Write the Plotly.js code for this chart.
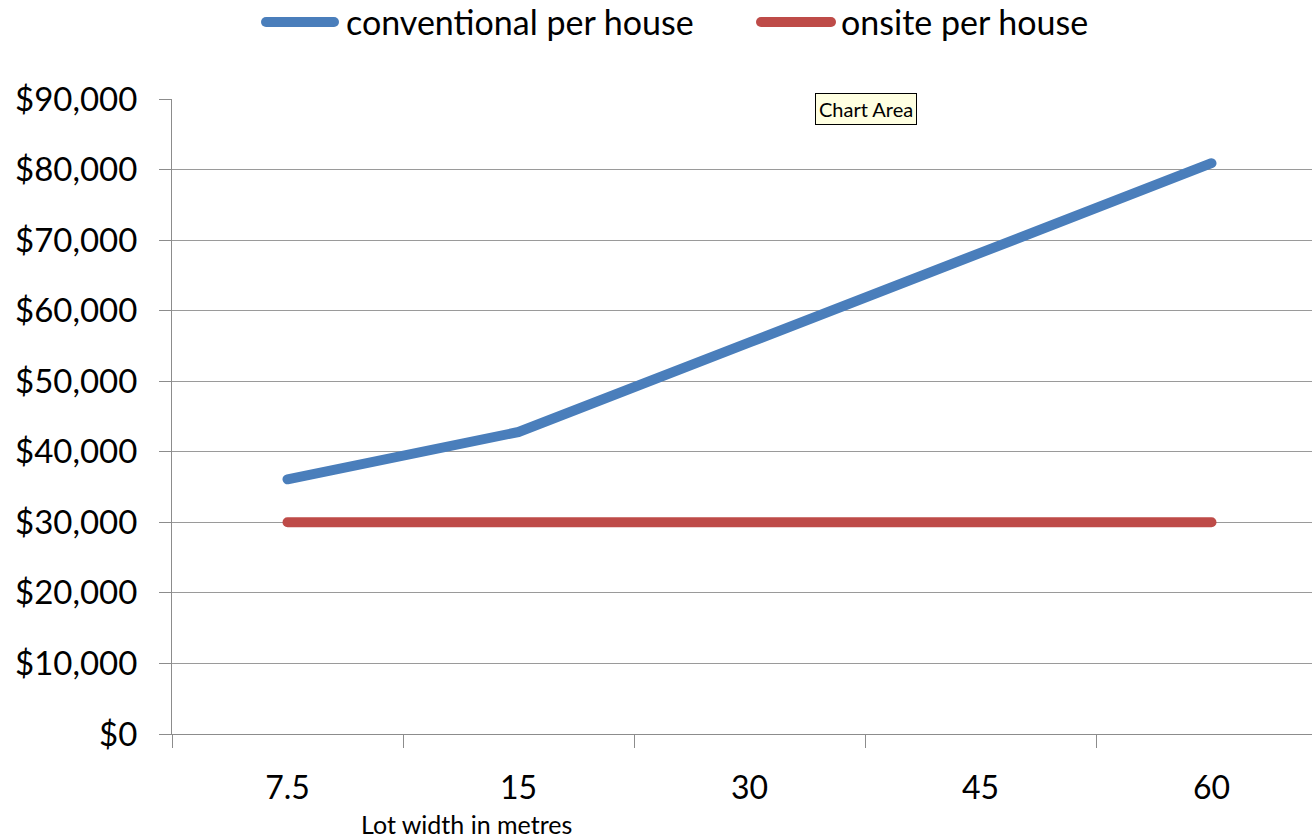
<!DOCTYPE html>
<html>
<head>
<meta charset="utf-8">
<script src="https://cdn.plot.ly/plotly-3.0.1.min.js"></script>
<style>
html, body { margin: 0; padding: 0; background: #fff; }
#chart { width: 1312px; height: 839px; }
.js-line { stroke-linecap: round; stroke-linejoin: round; }
.shapelayer path { stroke-linecap: round; }
</style>
</head>
<body>
<div id="chart"></div>
<script>
// Data
const categories = ["7.5", "15", "30", "45", "60"];
const conventional = [36100, 42800, 55500, 68200, 80900];
const onsite = [30000, 30000, 30000, 30000, 30000];
const seriesNames = ["conventional per house", "onsite per house"];
const yTickVals = [0, 10000, 20000, 30000, 40000, 50000, 60000, 70000, 80000, 90000];
const yTickText = ["$0", "$10,000", "$20,000", "$30,000", "$40,000", "$50,000", "$60,000", "$70,000", "$80,000", "$90,000"];
const xTitle = "Lot width in metres";

const W = 1312, H = 839;
const L = 172, R = 0, T = 99, B = 105;
const pw = W - L - R, ph = H - T - B;
const catW = 231;
const px = v => (v - L) / pw;
const py = v => (H - B - v) / ph;

const blue = "#4A7EBB", red = "#BE4B48";
const font = "Lato, 'Open Sans', sans-serif";

const traces = [
  { x: categories, y: conventional, name: seriesNames[0], type: "scatter", mode: "lines",
    line: { color: blue, width: 10 }, showlegend: false, hoverinfo: "skip" },
  { x: categories, y: onsite, name: seriesNames[1], type: "scatter", mode: "lines",
    line: { color: red, width: 10 }, showlegend: false, hoverinfo: "skip" }
];

const layout = {
  width: W, height: H,
  margin: { l: L, r: R, t: T, b: B, pad: 0 },
  paper_bgcolor: "#fff", plot_bgcolor: "#fff",
  showlegend: false,
  font: { family: font, color: "#000" },
  xaxis: {
    type: "category",
    range: [-0.5, -0.5 + pw / catW],
    tickson: "boundaries",
    ticks: "outside", ticklen: 13, tickwidth: 1, tickcolor: "#8c8c8c",
    showline: true, linecolor: "#8c8c8c", linewidth: 1,
    showgrid: false, zeroline: false,
    tickfont: { family: font, size: 32, color: "#000" },
    ticklabelstandoff: 26,
    fixedrange: true
  },
  yaxis: {
    range: [0, 90000],
    tickvals: yTickVals, ticktext: yTickText,
    ticks: "outside", ticklen: 12, tickwidth: 1, tickcolor: "#8c8c8c",
    showline: true, linecolor: "#8c8c8c", linewidth: 1,
    showgrid: true, gridcolor: "#9a9a9a", gridwidth: 1,
    zeroline: false,
    tickfont: { family: font, size: 33, color: "#000" },
    ticklabelstandoff: 15,
    fixedrange: true
  },
  shapes: [
    { type: "line", xref: "paper", yref: "paper", x0: px(266), x1: px(334), y0: py(22), y1: py(22),
      line: { color: blue, width: 10 } },
    { type: "line", xref: "paper", yref: "paper", x0: px(761), x1: px(831), y0: py(22), y1: py(22),
      line: { color: red, width: 10 } }
  ],
  annotations: [
    { xref: "paper", yref: "paper", x: px(344), y: py(21), xanchor: "left", yanchor: "middle",
      text: seriesNames[0], showarrow: false, font: { family: font, size: 34, color: "#000" } },
    { xref: "paper", yref: "paper", x: px(839), y: py(21), xanchor: "left", yanchor: "middle",
      text: seriesNames[1], showarrow: false, font: { family: font, size: 34, color: "#000" } },
    { xref: "paper", yref: "paper", x: px(466), y: py(824), xanchor: "center", yanchor: "middle",
      text: xTitle, showarrow: false, font: { family: font, size: 25, color: "#000" } },
    { xref: "paper", yref: "paper", x: px(866), y: py(109), xanchor: "center", yanchor: "middle",
      text: "Chart Area", showarrow: false, font: { family: font, size: 20, color: "#000" },
      bgcolor: "#FFFFE1", bordercolor: "#000", borderwidth: 1, borderpad: 3 }
  ]
};

Plotly.newPlot("chart", traces, layout, { displayModeBar: false, staticPlot: true });
</script>
</body>
</html>
